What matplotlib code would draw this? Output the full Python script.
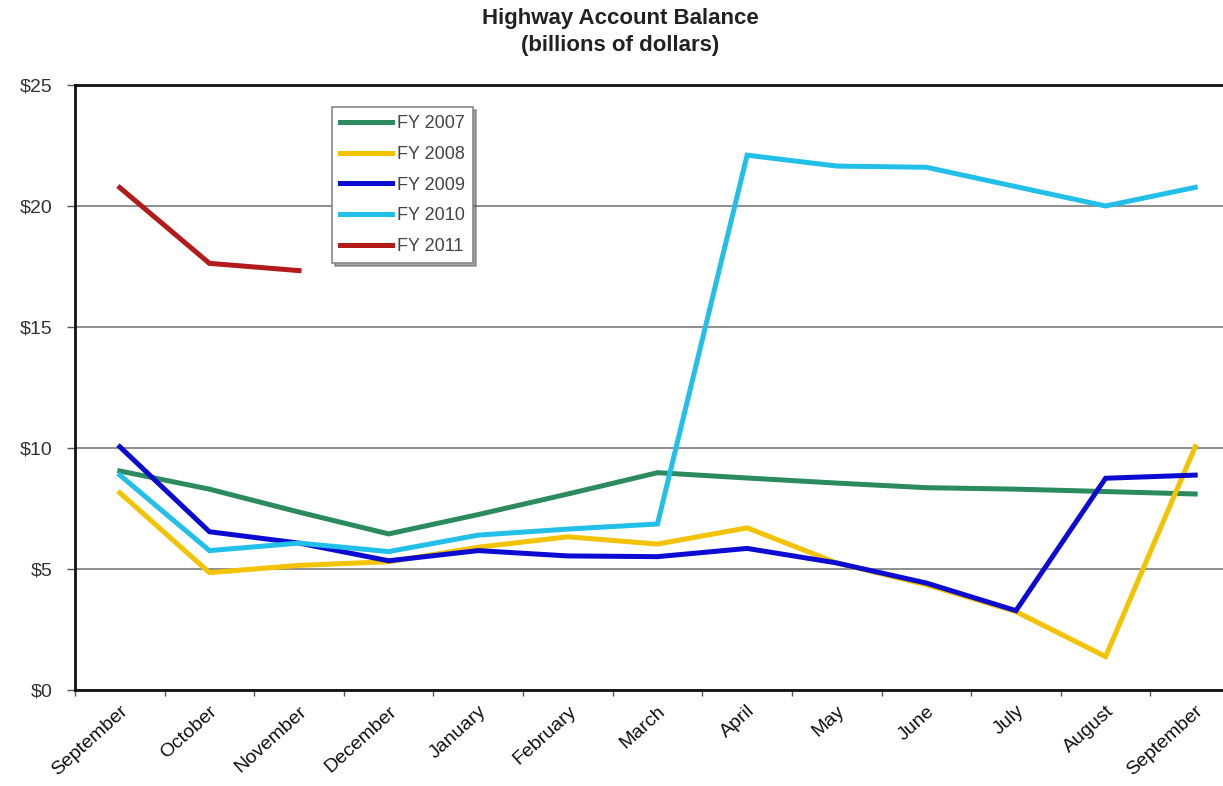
import numpy as np
from matplotlib import pyplot as plt
from matplotlib.ticker import FixedLocator

# Подписи месяцев и значения по годам (млрд долларов)
months = ['September', 'October', 'November', 'December', 'January', 'February',
          'March', 'April', 'May', 'June', 'July', 'August', 'September']

fy2007 = [9.05, 8.3, 7.35, 6.45, 7.25, 8.1, 8.98, 8.76, 8.55, 8.36, 8.3, 8.2, 8.1]
fy2008 = [8.15, 4.85, 5.15, 5.3, 5.9, 6.33, 6.03, 6.7, 5.25, 4.35, 3.24, 1.38, 10.05]
fy2009 = [10.05, 6.54, 6.07, 5.34, 5.76, 5.54, 5.51, 5.85, 5.25, 4.42, 3.28, 8.75, 8.88]
fy2010 = [8.88, 5.76, 6.07, 5.72, 6.4, 6.65, 6.86, 22.1, 21.65, 21.6, 20.8, 20.0, 20.77]
fy2011 = [20.76, 17.63, 17.33]

series = [('FY 2007', fy2007, '#2b8a5e'),
          ('FY 2008', fy2008, '#f3c300'),
          ('FY 2009', fy2009, '#0b0bd2'),
          ('FY 2010', fy2010, '#22bfe9'),
          ('FY 2011', fy2011, '#b31b1b')]

y_ticks = [0, 5, 10, 15, 20, 25]

plt.rcParams['font.family'] = ['Liberation Sans', 'DejaVu Sans']

fig = plt.figure(figsize=(12.23, 7.86), dpi=100)
# Правый край оси уходит за пределы рисунка, как в оригинале
ax = fig.add_axes([75 / 1223, 96 / 786, (1240 - 75) / 1223, 605 / 786])

for name, vals, color in series:
    ax.plot(np.arange(len(vals)), vals, color=color, lw=3.6, label=name,
            solid_joinstyle='miter', zorder=3)

ax.set_xlim(-0.5, len(months) - 0.5)
ax.set_ylim(0, 25)

# Сетка и рамка
ax.set_yticks(y_ticks)
ax.set_yticklabels([f'${v}' for v in y_ticks], color='#333333', fontsize=14)
ax.yaxis.grid(True, color='#7a7a7a', lw=1.2)
ax.set_axisbelow(True)
for side in ['top', 'left', 'bottom']:
    ax.spines[side].set_linewidth(2.0)
    ax.spines[side].set_color('#111111')
ax.spines['right'].set_visible(False)
ax.tick_params(axis='y', length=6, width=1, color='#555555', pad=10)

ax.set_xticks(np.arange(len(months)))
ax.set_xticklabels(months, rotation=42, ha='right', rotation_mode='anchor',
                   fontsize=14, color='#111111')
ax.xaxis.set_minor_locator(FixedLocator(np.arange(len(months) + 1) - 0.5))
ax.tick_params(axis='x', which='major', length=0, pad=9)
ax.tick_params(axis='x', which='minor', length=4, width=1, color='#555555')

fig.text(0.507, 0.99, 'Highway Account Balance\n(billions of dollars)',
         ha='center', va='top', fontsize=16, fontweight='bold', color='#222222',
         linespacing=1.4)

leg = ax.legend(loc='upper left', bbox_to_anchor=(332 / 1223, 1 - 107 / 786),
                bbox_transform=fig.transFigure, borderaxespad=0, fontsize=13,
                handlelength=2.9, handletextpad=0.25, labelspacing=0.76,
                borderpad=0.45, fancybox=False, shadow=True, framealpha=1)
leg.get_frame().set_edgecolor('#888888')
leg.get_frame().set_linewidth(1.2)
for t in leg.get_texts():
    t.set_color('#444444')

fig.savefig('out.png', dpi=100)
